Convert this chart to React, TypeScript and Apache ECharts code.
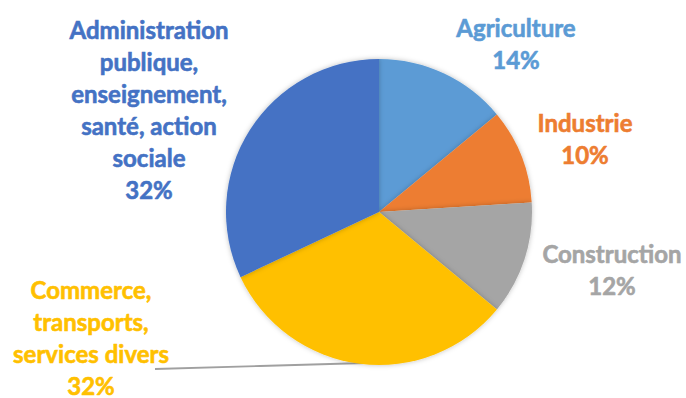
import React, { useEffect, useRef } from "react";
import * as echarts from "echarts";

const categories = [
  "Agriculture",
  "Industrie",
  "Construction",
  "Commerce,\ntransports,\nservices divers",
  "Administration\npublique,\nenseignement,\nsanté, action\nsociale",
];
const values = [14, 10, 12, 32, 32];
const colors = ["#5B9BD5", "#ED7D31", "#A5A5A5", "#FFC000", "#4472C4"];

// label block centres (layout)
const labelPos: [number, number][] = [
  [516, 43],
  [585, 138],
  [612, 269],
  [91, 337],
  [149, 109],
];

export default function App() {
  const ref = useRef<HTMLDivElement>(null);
  useEffect(() => {
    if (!ref.current) return;
    const chart = echarts.init(ref.current, null, { renderer: "svg" });
    chart.setOption({
      animation: false,
      backgroundColor: "#ffffff",
      series: [
        {
          type: "pie",
          center: [379, 212],
          radius: 153,
          startAngle: 90,
          clockwise: true,
          avoidLabelOverlap: false,
          itemStyle: {
            borderWidth: 0,
            shadowBlur: 5,
            shadowColor: "rgba(0,0,0,0.25)",
          },
          label: {
            show: true,
            formatter: "{b}\n{d}%",
            fontFamily: "Lato",
            fontWeight: "bold",
            fontSize: 24,
            lineHeight: 32,
            align: "center",
          },
          labelLine: { show: false, lineStyle: { color: "#A0A0A0", width: 1.8 } },
          labelLayout: (params: any) => {
            const i = params.dataIndex;
            const [x, y] = labelPos[i];
            const res: any = { x, y, align: "center", verticalAlign: "middle" };
            if (i === 3) {
              res.labelLinePoints = [
                [365, 363],
                [260, 366],
                [155, 369],
              ];
            }
            return res;
          },
          data: categories.map((name, i) => ({
            name,
            value: values[i],
            itemStyle: { color: colors[i] },
            label: { color: colors[i], textBorderColor: colors[i], textBorderWidth: 0.6 },
            labelLine: { show: i === 3 },
          })),
        },
      ],
    });
    return () => chart.dispose();
  }, []);
  return (
    <div
      ref={ref}
      style={{ position: "absolute", left: 0, top: 0, width: 686, height: 398 }}
    />
  );
}
